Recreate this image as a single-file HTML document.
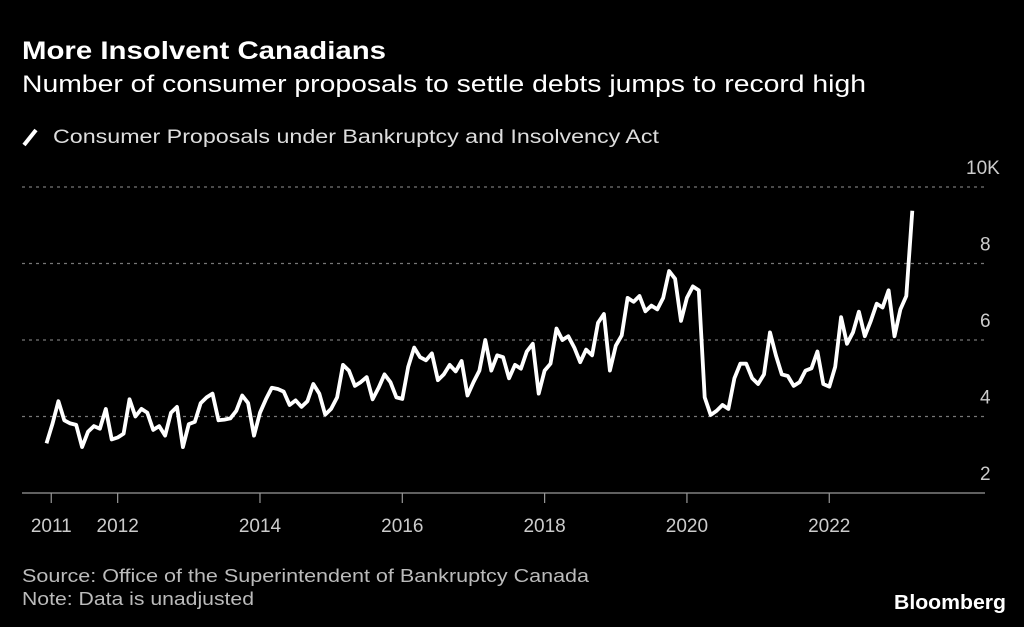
<!DOCTYPE html>
<html><head><meta charset="utf-8"><style>
html,body{margin:0;padding:0;background:#000;}
svg{display:block;font-family:"Liberation Sans",sans-serif;}
</style></head><body>
<svg id="chart" width="1024" height="627" viewBox="0 0 1024 627">
<rect width="1024" height="627" fill="#000"/>
<text x="22" y="59" fill="#fff" font-size="25" font-weight="bold" textLength="364" lengthAdjust="spacingAndGlyphs">More Insolvent Canadians</text>
<text x="22" y="92" fill="#fff" font-size="24" textLength="844" lengthAdjust="spacingAndGlyphs">Number of consumer proposals to settle debts jumps to record high</text>
<line x1="24" y1="145" x2="36" y2="130" stroke="#fff" stroke-width="4" stroke-linecap="butt"/>
<text x="53" y="143" fill="#ddd" font-size="19" textLength="606" lengthAdjust="spacingAndGlyphs">Consumer Proposals under Bankruptcy and Insolvency Act</text>
<g id="grid"></g>
<g id="yticks"></g>
<g id="xaxis"></g>
<path id="line" fill="none" stroke="#fff" stroke-width="3.8" stroke-linejoin="round"/>
<text x="22" y="582" fill="#bbb" font-size="18" textLength="567" lengthAdjust="spacingAndGlyphs">Source: Office of the Superintendent of Bankruptcy Canada</text>
<text x="22" y="605" fill="#bbb" font-size="18" textLength="232" lengthAdjust="spacingAndGlyphs">Note: Data is unadjusted</text>
<text x="1006" y="609" fill="#fff" font-size="20" font-weight="bold" text-anchor="end" textLength="112" lengthAdjust="spacingAndGlyphs">Bloomberg</text>
</svg>
<script>
const values = [3.30,3.8,4.4,3.9,3.82,3.78,3.2,3.6,3.75,3.68,4.2,3.4,
3.45,3.55,4.45,4.0,4.2,4.1,3.65,3.75,3.5,4.1,4.25,3.2,
3.8,3.86,4.35,4.5,4.6,3.9,3.92,3.95,4.15,4.55,4.35,3.5,
4.1,4.45,4.75,4.72,4.65,4.3,4.42,4.25,4.4,4.85,4.6,4.05,
4.2,4.5,5.35,5.2,4.8,4.9,5.03,4.45,4.75,5.1,4.9,4.5,
4.46,5.3,5.8,5.55,5.47,5.65,4.95,5.1,5.35,5.18,5.45,4.55,
4.9,5.2,6.0,5.2,5.6,5.55,5.0,5.35,5.25,5.7,5.9,4.6,
5.2,5.38,6.3,6.0,6.1,5.8,5.42,5.75,5.6,6.45,6.68,5.2,
5.85,6.12,7.1,7.0,7.15,6.75,6.9,6.8,7.1,7.8,7.6,6.5,
7.1,7.4,7.3,4.5,4.04,4.15,4.3,4.2,5.0,5.38,5.38,5.0,
4.85,5.1,6.2,5.6,5.1,5.06,4.8,4.9,5.2,5.26,5.7,4.85,
4.78,5.3,6.6,5.9,6.2,6.74,6.1,6.5,6.95,6.85,7.3,6.1,
6.8,7.15,9.38];
const yTicks = [2,4,6,8,10];
const yTickLabels = ["2","4","6","8","10K"];
const xTickMonths = [0.8,12,36,60,84,108,132];
const xTickLabels = ["2011","2012","2014","2016","2018","2020","2022"];

const NS="http://www.w3.org/2000/svg";
function x(i){return 46.5+i*5.93;}
function y(v){return 493-(v-2)*38.25;}

const grid=document.getElementById('grid');
const yt=document.getElementById('yticks');
yTicks.forEach((t,k)=>{
  if(t!==2){
    const l=document.createElementNS(NS,'line');
    
    
    l.setAttribute('x1',22);l.setAttribute('x2',985);
    l.setAttribute('y1',y(t));l.setAttribute('y2',y(t));
    l.setAttribute('stroke','#777');l.setAttribute('stroke-width','1.2');
    l.setAttribute('stroke-dasharray','3 4');
    grid.appendChild(l);
  }
  const tx=document.createElementNS(NS,'text');
  
  
  tx.setAttribute('x', t===10 ? 966 : 980);
  tx.setAttribute('y',y(t)-13);
  tx.setAttribute('fill','#ccc');tx.setAttribute('font-size','19');
  tx.textContent=yTickLabels[k];
  yt.appendChild(tx);
});
const xa=document.getElementById('xaxis');
const base=document.createElementNS(NS,'line');


base.setAttribute('x1',22);base.setAttribute('x2',985);
base.setAttribute('y1',493);base.setAttribute('y2',493);
base.setAttribute('stroke','#999');base.setAttribute('stroke-width','1.2');
xa.appendChild(base);
xTickMonths.forEach((m,k)=>{
  const l=document.createElementNS(NS,'line');
  
  
  l.setAttribute('x1',x(m));l.setAttribute('x2',x(m));
  l.setAttribute('y1',493);l.setAttribute('y2',503);
  l.setAttribute('stroke','#999');l.setAttribute('stroke-width','1.2');
  xa.appendChild(l);
  const tx=document.createElementNS(NS,'text');
  
  
  tx.setAttribute('x',x(m));tx.setAttribute('y',532);
  tx.setAttribute('text-anchor','middle');
  tx.setAttribute('fill','#ccc');tx.setAttribute('font-size','19');
  tx.textContent=xTickLabels[k];
  xa.appendChild(tx);
});
document.getElementById('line').setAttribute('d',values.map((v,i)=>(i?'L':'M')+x(i).toFixed(1)+','+y(v).toFixed(1)).join(''));
</script>
</body></html>
